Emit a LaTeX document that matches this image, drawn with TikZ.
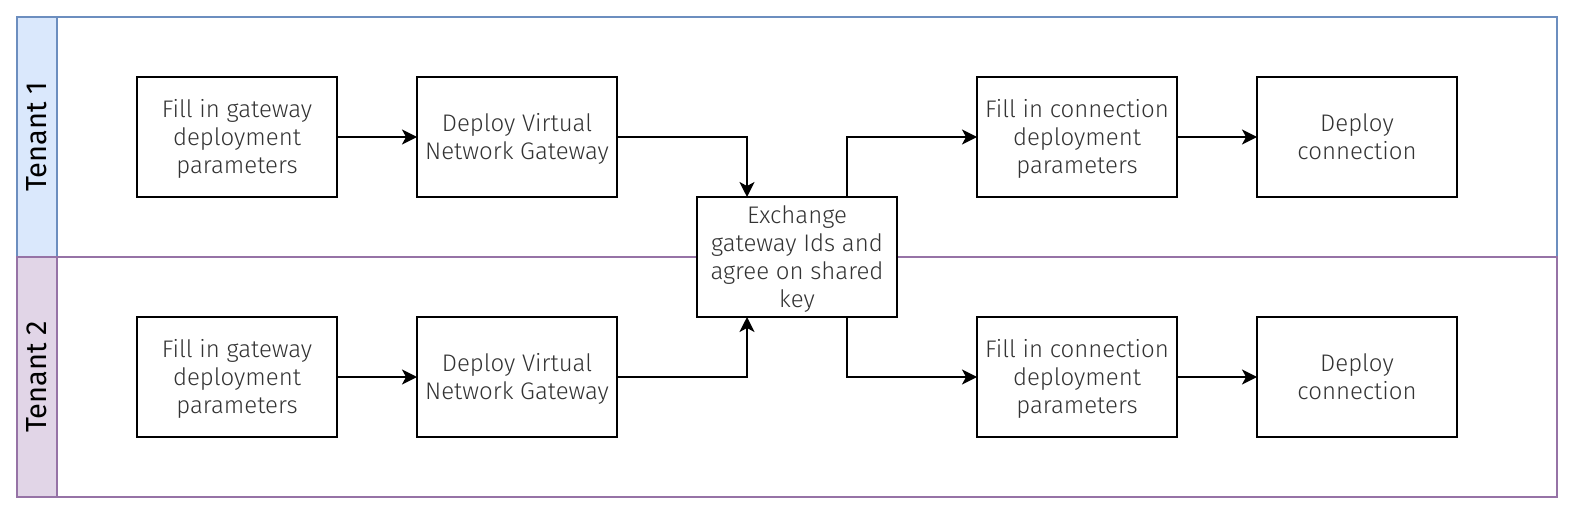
\documentclass[tikz,border=0pt]{standalone}
\usepackage{fontspec}
\setmainfont{Fira Sans}
\newfontfamily\lightfont{Fira Sans Light}
\usetikzlibrary{positioning, arrows.meta}
\definecolor{LaneBlue}{HTML}{DAE8FC}
\definecolor{LaneBlueLine}{HTML}{6C8EBF}
\definecolor{LanePurple}{HTML}{E1D5E7}
\definecolor{LanePurpleLine}{HTML}{9673A6}
\definecolor{StepText}{RGB}{51,51,51}

\begin{document}
\begin{tikzpicture}[x=0.5pt, y=-0.5pt,
    stepbox/.style={draw, line width=1pt, fill=white, minimum width=100pt, minimum height=60pt,
      outer sep=0pt, align=center, inner sep=0pt, text=StepText, text depth=0.5pt,
      font=\lightfont\fontsize{12}{14}\selectfont},
    arr/.style={-{Stealth[length=7.5pt, width=7.5pt, inset=2pt]}, line width=0.9pt},
    lanetitle/.style={rotate=90, font=\fontsize{14.5}{16}\selectfont}]
  \useasboundingbox (0,0) rectangle (1584,524);
  % swimlanes
  \draw[LaneBlueLine, line width=1pt, fill=LaneBlue] (17,17) rectangle (57,257);
  \draw[LaneBlueLine, line width=1pt] (57,17) rectangle (1557,257);
  \draw[LanePurpleLine, line width=1pt, fill=LanePurple] (17,257) rectangle (57,497);
  \draw[LanePurpleLine, line width=1pt] (57,257) rectangle (1557,497);
  \node[lanetitle] (lane1) at (37,137) {Tenant 1};
  \node[lanetitle] (lane2) at (37,377) {Tenant 2};
  % tenant 1
  \node[stepbox] (gw1) at (237,137) {Fill in gateway\\deployment\\parameters};
  \node[stepbox, right=40pt of gw1] (vng1) {Deploy Virtual\\Network Gateway};
  \node[stepbox] (conn1) at (1077,137) {Fill in connection\\deployment\\parameters};
  \node[stepbox, right=40pt of conn1] (dc1) {Deploy\\connection};
  % tenant 2
  \node[stepbox] (gw2) at (237,377) {Fill in gateway\\deployment\\parameters};
  \node[stepbox, right=40pt of gw2] (vng2) {Deploy Virtual\\Network Gateway};
  \node[stepbox] (conn2) at (1077,377) {Fill in connection\\deployment\\parameters};
  \node[stepbox, right=40pt of conn2] (dc2) {Deploy\\connection};
  % shared step
  \node[stepbox] (xchg) at (797,257) {Exchange\\gateway Ids and\\agree on shared\\key};
  \draw[arr] (gw1) -- (vng1);
  \draw[arr] (vng1.east) -| ([xshift=-25pt]xchg.north);
  \draw[arr] ([xshift=25pt]xchg.north) |- (conn1.west);
  \draw[arr] (conn1) -- (dc1);
  \draw[arr] (gw2) -- (vng2);
  \draw[arr] (vng2.east) -| ([xshift=-25pt]xchg.south);
  \draw[arr] ([xshift=25pt]xchg.south) |- (conn2.west);
  \draw[arr] (conn2) -- (dc2);
\end{tikzpicture}
\end{document}
